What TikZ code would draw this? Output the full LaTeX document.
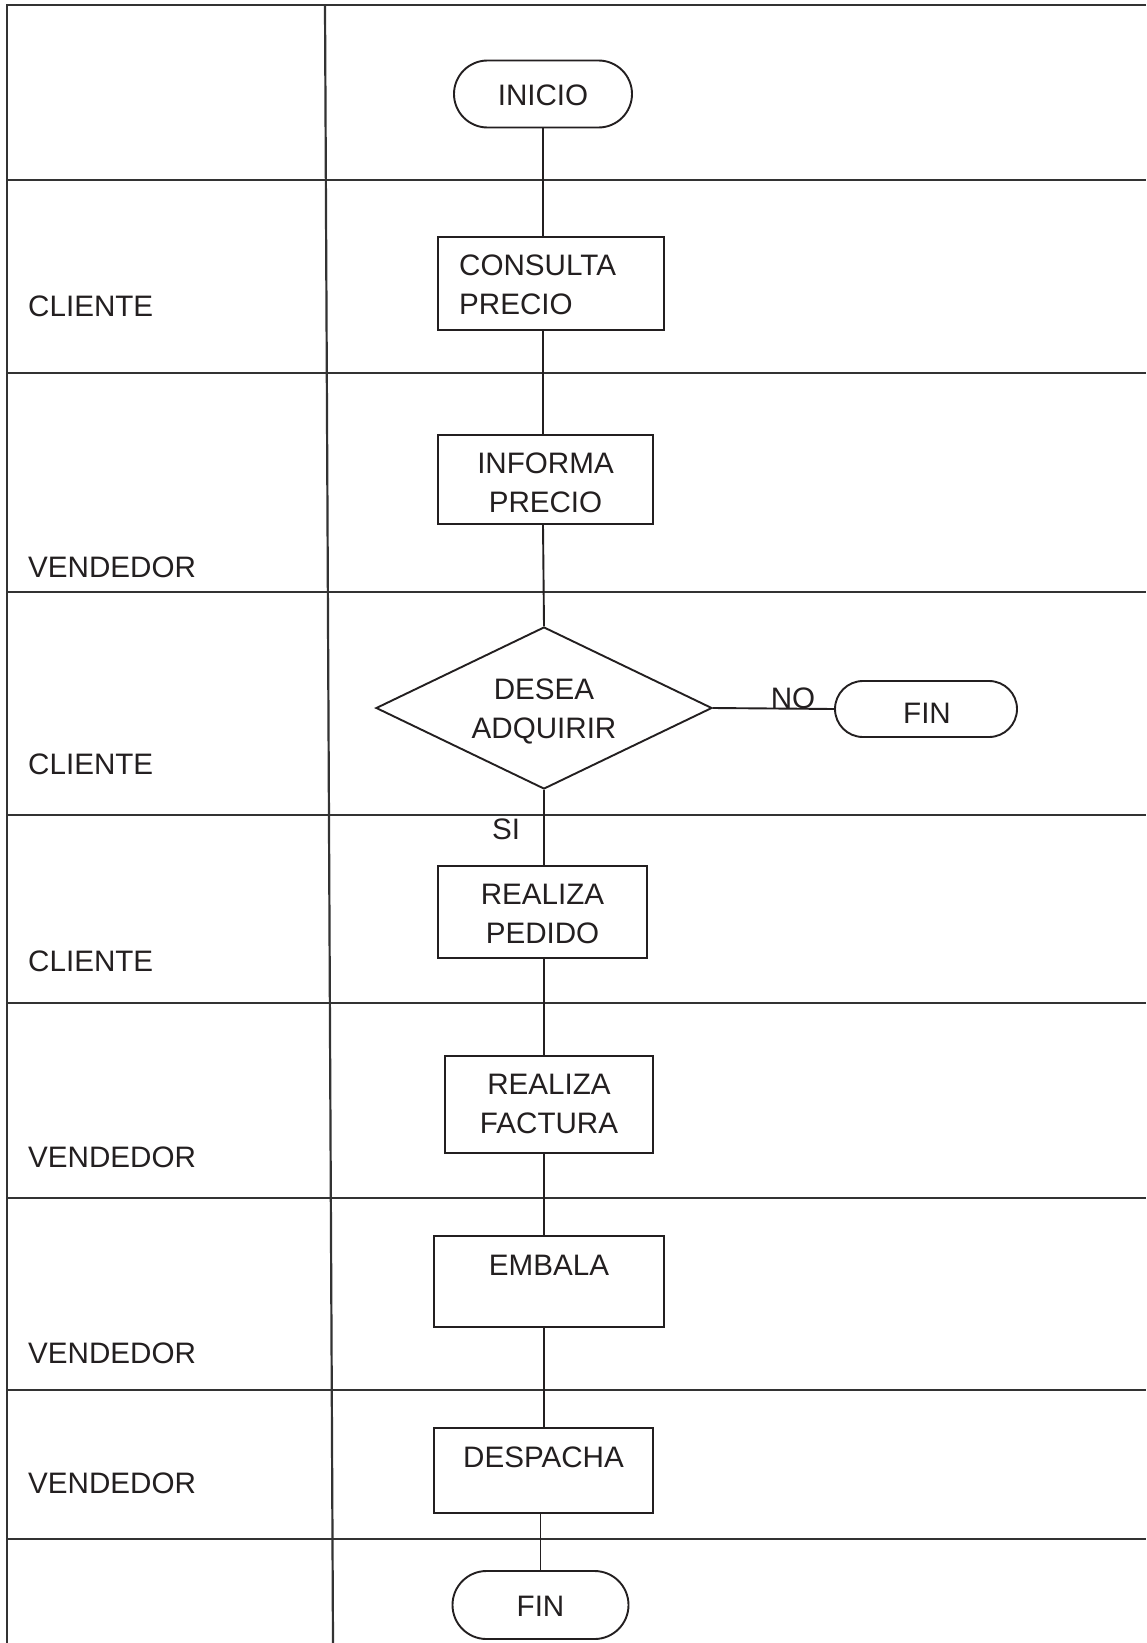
\documentclass[tikz,border=0pt]{standalone}
\usepackage{fontspec}
\setmainfont{Liberation Sans}
\usetikzlibrary{shapes.geometric}
\definecolor{ink}{HTML}{231F20}
\definecolor{rule}{HTML}{333333}
\tikzset{
  lane/.style={draw=rule, line width=2.2pt},
  link/.style={draw=ink, line width=1.9pt},
  procbox/.style={draw=ink, line width=1.9pt, rectangle, inner sep=0pt},
  term/.style={draw=ink, line width=1.9pt, rectangle, rounded corners=#1, inner sep=0pt},
  decision/.style={draw=ink, line width=1.9pt, diamond, inner sep=0pt},
  txt/.style={inner sep=0pt, text=ink, font=\fontsize{29.6}{39}\selectfont},
}
\begin{document}
\begin{tikzpicture}[x=1pt, y=-1pt]
\useasboundingbox (0,0) rectangle (1146,1643);
\fill[white] (0,0) rectangle (1146,1643);

% swimlane grid
\coordinate (tl) at (7,5);
\draw[lane] (1146,5) -- (tl) -- (7,1643);
\draw[lane] (325,5) -- (333,1643);
\foreach \yy in {180,373,592,815,1003,1198,1390,1539}
  \draw[lane] (7,\yy) -- (1146,\yy);

% lane labels
\node[txt, anchor=west] (l1) at (28,306) {CLIENTE};
\node[txt, anchor=west] (l2) at (28,567) {VENDEDOR};
\node[txt, anchor=west] (l3) at (28,764) {CLIENTE};
\node[txt, anchor=west] (l4) at (28,961) {CLIENTE};
\node[txt, anchor=west] (l5) at (28,1157) {VENDEDOR};
\node[txt, anchor=west] (l6) at (28,1353) {VENDEDOR};
\node[txt, anchor=west] (l7) at (28,1483) {VENDEDOR};

% flow shapes
\node[term=33.5pt, minimum width=178pt, minimum height=67pt] (inicio) at (543,94) {};
\node[procbox, minimum width=226pt, minimum height=93pt] (consulta) at (551,283.5) {};
\node[procbox, minimum width=215pt, minimum height=89pt] (informa) at (545.5,479.5) {};
\node[decision, minimum width=336pt, minimum height=162pt] (desea) at (544,708) {};
\node[term=28pt, minimum width=182pt, minimum height=56pt] (finno) at (926,709) {};
\node[procbox, minimum width=209pt, minimum height=92pt] (pedido) at (542.5,912) {};
\node[procbox, minimum width=208pt, minimum height=97pt] (factura) at (549,1104.5) {};
\node[procbox, minimum width=230pt, minimum height=91pt] (embala) at (549,1281.5) {};
\node[procbox, minimum width=219pt, minimum height=85pt] (despacha) at (543.5,1470.5) {};
\node[term=34pt, minimum width=176pt, minimum height=68pt] (fin) at (540.5,1605) {};

% texts in the shapes
\node[txt] (tinicio) at (543,95) {INICIO};
\node[txt, align=left, anchor=west] (tconsulta) at (459,284.5) {CONSULTA\\PRECIO};
\node[txt, align=center] (tinforma) at (545.5,483) {INFORMA\\PRECIO};
\node[txt, align=center] (tdesea) at (544,711.5) {DESEA\\ADQUIRIR};
\node[txt] (tfinno) at (927,713) {FIN};
\node[txt, align=center] (tpedido) at (542.5,914) {REALIZA\\PEDIDO};
\node[txt, align=center] (tfactura) at (549,1103.5) {REALIZA\\FACTURA};
\node[txt] (tembala) at (549,1265) {EMBALA};
\node[txt] (tdespacha) at (543.5,1457) {DESPACHA};
\node[txt] (tfin) at (540.5,1606) {FIN};

% connectors
\draw[link] (inicio.south) -- (inicio.south |- consulta.north);
\draw[link] (inicio.south |- consulta.south) -- (inicio.south |- informa.north);
\draw[link] (inicio.south |- informa.south) -- (desea.north);
\draw[link] (desea.east) -- (finno.west);
\draw[link] (desea.south) -- (desea.south |- pedido.north);
\draw[link] (desea.south |- pedido.south) -- (desea.south |- factura.north);
\draw[link] (desea.south |- factura.south) -- (desea.south |- embala.north);
\draw[link] (desea.south |- embala.south) -- (desea.south |- despacha.north);
\draw[link] (fin.north |- despacha.south) -- (fin.north);

% branch labels
\node[txt] (lno) at (793,698) {NO};
\node[txt] (lsi) at (506,829) {SI};
\end{tikzpicture}
\end{document}
